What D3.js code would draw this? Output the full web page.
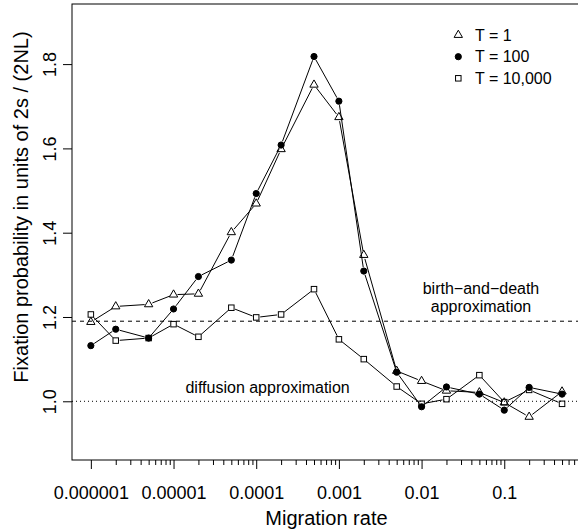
<!DOCTYPE html>
<html><head><meta charset="utf-8">
<script src="https://cdn.jsdelivr.net/npm/d3@7"></script>
<style>
body{margin:0;background:#fff}
svg{display:block}
text{font-family:"Liberation Sans",Arial,Helvetica,sans-serif;fill:#000}
</style>
</head><body>
<svg id="c" width="578" height="530"></svg>
<script>
// ---- data ----
const migration = [1e-6, 2e-6, 5e-6, 1e-5, 2e-5, 5e-5, 1e-4, 2e-4, 5e-4, 1e-3, 2e-3, 5e-3, 1e-2, 2e-2, 5e-2, 0.1, 0.2, 0.5];
const seriesT1 =     [1.188, 1.225, 1.230, 1.253, 1.255, 1.401, 1.469, 1.598, 1.751, 1.674, 1.347, 1.072, 1.048, 1.025, 1.021, 0.997, 0.963, 1.023];
const seriesT100 =   [1.132, 1.171, 1.150, 1.219, 1.296, 1.335, 1.493, 1.608, 1.818, 1.712, 1.309, 1.069, 0.987, 1.034, 1.017, 0.979, 1.033, 1.017];
const seriesT10000 = [1.206, 1.144, 1.150, 1.183, 1.153, 1.222, 1.199, 1.206, 1.266, 1.147, 1.100, 1.035, 0.994, 1.005, 1.062, 0.998, 1.027, 0.994];
const seriesNames = ["T = 1", "T = 100", "T = 10,000"];
const xTicks = [1e-6, 1e-5, 1e-4, 1e-3, 1e-2, 1e-1];
const xTickLabels = ["0.000001", "0.00001", "0.0001", "0.001", "0.01", "0.1"];
const yTicks = [1.0, 1.2, 1.4, 1.6, 1.8];
const yTickLabels = ["1.0", "1.2", "1.4", "1.6", "1.8"];
const birthDeathLevel = 1.19;
const diffusionLevel = 1.0;

// ---- layout ----
const svg = d3.select("#c");
const L = 72, R = 580.9, T = 4, B = 460;
const x = d3.scaleLog().domain([Math.pow(10, -6.228), Math.pow(10, -0.073)]).range([L, R]);
const y = d3.scaleLinear().domain([0.8607, 1.9426]).range([B, T]);

// reference lines
svg.append("line").attr("x1", L).attr("x2", R).attr("y1", y(birthDeathLevel)).attr("y2", y(birthDeathLevel))
  .attr("stroke", "#000").attr("stroke-width", 1).attr("stroke-dasharray", "4,4");
svg.append("line").attr("x1", L).attr("x2", R).attr("y1", y(diffusionLevel)).attr("y2", y(diffusionLevel))
  .attr("stroke", "#000").attr("stroke-width", 1).attr("stroke-dasharray", "1,3");

// box
svg.append("rect").attr("x", L).attr("y", T).attr("width", R - L).attr("height", B - T)
  .attr("fill", "none").attr("stroke", "#000").attr("stroke-width", 1);

// x axis major
const xAxis = d3.axisBottom(x).tickValues(xTicks).tickFormat((d, i) => xTickLabels[i])
  .tickSize(9).tickSizeOuter(0).tickPadding(17);
const gx = svg.append("g").attr("transform", `translate(0,${B})`).call(xAxis);
gx.select(".domain").remove();
gx.selectAll("text").style("font-size", "18px").attr("font-family", null);
// x axis minor
const minor = [];
const [d0, d1] = x.domain();
for (let e = -7; e <= 0; e++) for (let k = 2; k <= 9; k++) { const v = k * Math.pow(10, e); if (v >= 1e-6 && v <= d1) minor.push(v); }
const gxm = svg.append("g").attr("transform", `translate(0,${B})`)
  .call(d3.axisBottom(x).tickValues(minor).tickFormat("").tickSize(5).tickSizeOuter(0));
gxm.select(".domain").remove();

// y axis
const gy = svg.append("g").attr("transform", `translate(${L},0)`)
  .call(d3.axisLeft(y).tickValues(yTicks).tickFormat((d, i) => yTickLabels[i]).tickSize(9).tickSizeOuter(0));
gy.select(".domain").remove();
gy.selectAll("text").style("font-size", "18px").attr("font-family", null)
  .attr("x", 0).attr("y", -16).attr("dy", null).attr("text-anchor", "middle").attr("transform", "rotate(-90)");

// axis titles
svg.append("text").attr("x", (L + R) / 2).attr("y", 525).attr("text-anchor", "middle")
  .style("font-size", "20px").text("Migration rate");
svg.append("text").attr("transform", "translate(28,207) rotate(-90)").attr("text-anchor", "middle")
  .style("font-size", "20px").text("Fixation probability in units of 2s / (2NL)");

// annotations
svg.append("text").attr("x", 267.6).attr("y", 393).attr("text-anchor", "middle").style("font-size", "16px").text("diffusion approximation");
svg.append("text").attr("x", 481).attr("y", 294.3).attr("text-anchor", "middle").style("font-size", "16px").text("birth\u2212and\u2212death");
svg.append("text").attr("x", 481).attr("y", 311.5).attr("text-anchor", "middle").style("font-size", "16px").text("approximation");

// markers
const RAD = 3.1;
function triPath(cx, cy) {
  const xc = RAD * 1.3468, r = RAD * 1.5551, yc = RAD * 0.7776;
  return `M${cx},${cy - r}L${cx + xc},${cy + yc}L${cx - xc},${cy + yc}Z`;
}
function drawMarker(g, kind, cx, cy) {
  if (kind === "tri") g.append("path").attr("d", triPath(cx, cy)).attr("fill", "none").attr("stroke", "#000").attr("stroke-width", 1);
  else if (kind === "circ") g.append("circle").attr("cx", cx).attr("cy", cy).attr("r", RAD).attr("fill", "#000").attr("stroke", "#000").attr("stroke-width", 1);
  else { const h = RAD * 0.8862; g.append("rect").attr("x", cx - h).attr("y", cy - h).attr("width", 2 * h).attr("height", 2 * h).attr("fill", "none").attr("stroke", "#000").attr("stroke-width", 1); }
}
const GAP = 4;
function drawSeries(vals, kind) {
  const g = svg.append("g");
  const pts = migration.map((m, i) => [x(m), y(vals[i])]);
  for (let i = 0; i < pts.length - 1; i++) {
    const [x1, y1] = pts[i], [x2, y2] = pts[i + 1];
    const dx = x2 - x1, dy = y2 - y1, len = Math.hypot(dx, dy);
    if (len > 2 * GAP) {
      const ux = dx / len, uy = dy / len;
      g.append("line").attr("x1", x1 + ux * GAP).attr("y1", y1 + uy * GAP).attr("x2", x2 - ux * GAP).attr("y2", y2 - uy * GAP)
        .attr("stroke", "#000").attr("stroke-width", 1);
    }
  }
  pts.forEach(p => drawMarker(g, kind, p[0], p[1]));
}
const kinds = ["tri", "circ", "sq"];
[seriesT1, seriesT100, seriesT10000].forEach((s, i) => drawSeries(s, kinds[i]));

// legend
const legY = [35, 56.7, 78.3];
seriesNames.forEach((n, i) => {
  drawMarker(svg, kinds[i], 458.3, legY[i]);
  svg.append("text").attr("x", 475).attr("y", legY[i] + 5.6).style("font-size", "16px").text(n);
});
</script>
</body></html>
